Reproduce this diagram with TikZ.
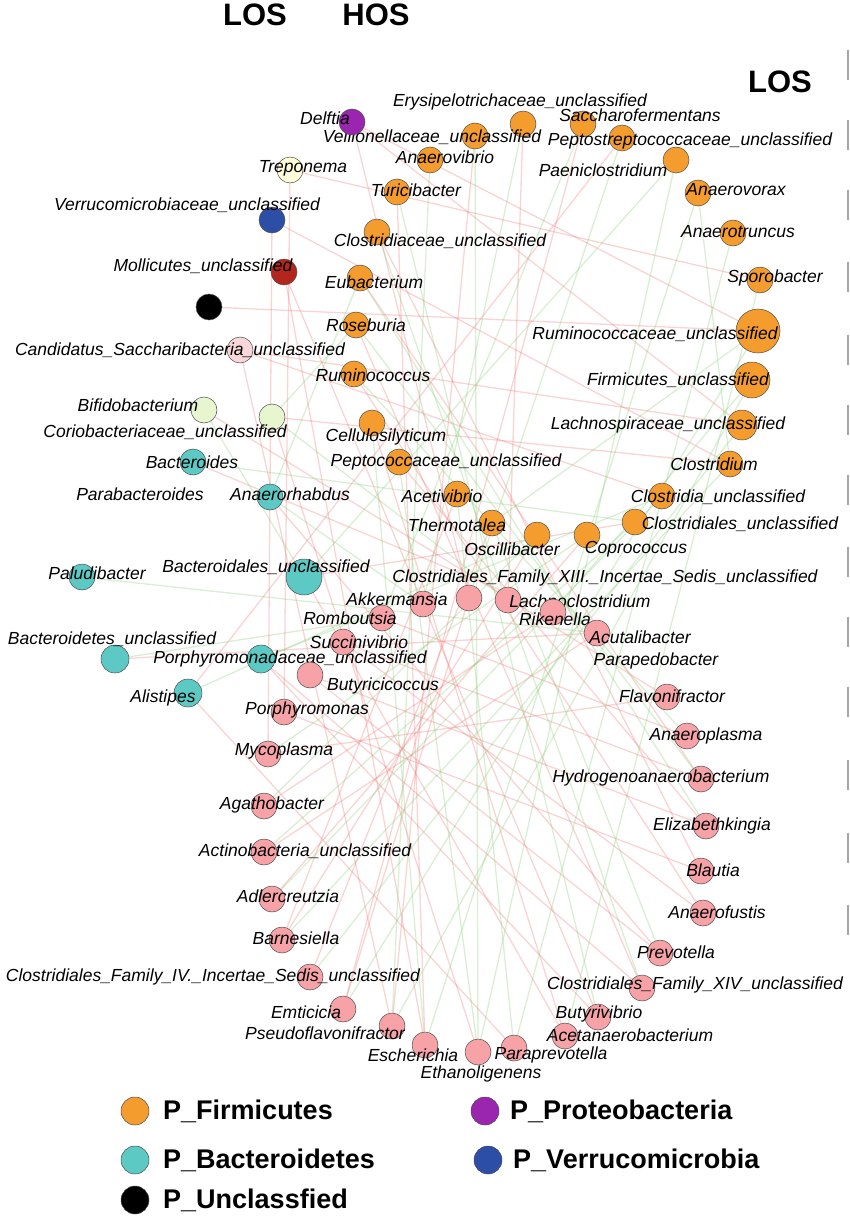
\documentclass[tikz,border=0pt]{standalone}
\usepackage{fontspec}
\setmainfont{Liberation Sans}
\usetikzlibrary{backgrounds}
\definecolor{cF}{HTML}{F59C2F}
\definecolor{cB}{HTML}{5CC9C5}
\definecolor{cP}{HTML}{F6A2A6}
\definecolor{cPu}{HTML}{9A25AE}
\definecolor{cV}{HTML}{2D4EA6}
\definecolor{cR}{HTML}{B3261E}
\definecolor{cY}{HTML}{FFFDD8}
\definecolor{cG}{HTML}{E8F6CF}
\definecolor{cK}{HTML}{F8D6DA}
\definecolor{eR}{HTML}{F08080}
\definecolor{eG}{HTML}{90D080}
\newcommand{\bug}[8]{\node[bugc,fill=#5,minimum size=#4pt] (#1) at (#2,#3) {};\node[lab] at (#6,#7) {#8};}
\begin{document}
\begin{tikzpicture}[x=1pt,y=-1pt,
 bugc/.style={circle,draw=black!70,line width=0.5pt,inner sep=0pt},
 lab/.style={font=\fontsize{17.5}{17.5}\selectfont\itshape,inner sep=0pt},
 head/.style={font=\fontsize{31}{31}\selectfont\bfseries,inner sep=0pt},
 leg/.style={font=\fontsize{27}{27}\selectfont\bfseries,anchor=west,inner sep=0pt},
 er/.style={draw=eR,opacity=0.35,line width=1.3pt},
 eg/.style={draw=eG,opacity=0.35,line width=1.3pt},
 tick/.style={draw=gray!70,line width=1.5pt}]
\useasboundingbox (0,0) rectangle (849,1217);
\node[head] (los1) at (255,15) {LOS};
\node[head] (hos) at (376,15) {HOS};
\node[head] (los2) at (780,82) {LOS};
\foreach \y in {65,135,205,277,350,420,490,562,632,702,775,848,920}{\draw[tick] (848,\y-15) -- (848,\y+15);}
% Firmicutes
\bug{ery}{523}{124}{26}{cF}{520}{102}{Erysipelotrichaceae\_unclassified}
\bug{sac}{583}{124}{26}{cF}{640}{115}{Saccharofermentans}
\bug{pep}{622}{138}{26}{cF}{690}{141}{Peptostreptococcaceae\_unclassified}
\bug{vei}{475}{136}{26}{cF}{432}{137}{Veillonellaceae\_unclassified}
\bug{ava}{430}{160}{26}{cF}{445}{157}{Anaerovibrio}
\bug{pae}{676}{160}{26}{cF}{603}{170}{Paeniclostridium}
\bug{tur}{397}{192}{26}{cF}{416}{190}{Turicibacter}
\bug{avx}{698}{193}{26}{cF}{736}{190}{Anaerovorax}
\bug{atr}{733}{233}{26}{cF}{738}{232}{Anaerotruncus}
\bug{cla}{377}{232}{26}{cF}{440}{241}{Clostridiaceae\_unclassified}
\bug{spo}{760}{280}{26}{cF}{775}{278}{Sporobacter}
\bug{eub}{360}{278}{26}{cF}{374}{282}{Eubacterium}
\bug{rum}{758}{331}{44}{cF}{655}{334}{Ruminococcaceae\_unclassified}
\bug{ros}{356}{325}{26}{cF}{366}{325}{Roseburia}
\bug{fir}{752}{380}{36}{cF}{678}{380}{Firmicutes\_unclassified}
\bug{rmc}{354}{374}{26}{cF}{373}{375}{Ruminococcus}
\bug{lac}{742}{425}{30}{cF}{668}{425}{Lachnospiraceae\_unclassified}
\bug{cel}{372}{423}{26}{cF}{386}{437}{Cellulosilyticum}
\bug{clo}{730}{464}{26}{cF}{714}{464}{Clostridium}
\bug{ppc}{399}{462}{26}{cF}{446}{462}{Peptococcaceae\_unclassified}
\bug{ace}{457}{494}{26}{cF}{442}{496}{Acetivibrio}
\bug{cli}{662}{496}{26}{cF}{718}{497}{Clostridia\_unclassified}
\bug{the}{492}{523}{26}{cF}{457}{525}{Thermotalea}
\bug{cls}{635}{522}{26}{cF}{740}{524}{Clostridiales\_unclassified}
\bug{osc}{537}{535}{26}{cF}{512}{549}{Oscillibacter}
\bug{cop}{587}{535}{26}{cF}{636}{549}{Coprococcus}
% others
\bug{del}{352}{122}{26}{cPu}{325}{118}{Delftia}
\bug{tre}{290}{170}{26}{cY}{303}{168}{Treponema}
\bug{ver}{272}{220}{26}{cV}{187}{205}{Verrucomicrobiaceae\_unclassified}
\bug{mol}{284}{272}{26}{cR}{203}{266}{Mollicutes\_unclassified}
\node[bugc,fill=black,minimum size=26pt] (unk) at (209,307) {};
\bug{can}{240}{350}{26}{cK}{180}{350}{Candidatus\_Saccharibacteria\_unclassified}
\bug{bif}{204}{410}{26}{cG}{138}{405}{Bifidobacterium}
\bug{cor}{272}{417}{26}{cG}{165}{432}{Coriobacteriaceae\_unclassified}
% Bacteroidetes
\bug{bac}{193}{462}{26}{cB}{192}{462}{Bacteroides}
\node[lab] (par) at (140,494) {Parabacteroides};
\bug{anr}{270}{497}{26}{cB}{290}{494}{Anaerorhabdus}
\bug{pal}{82}{577}{26}{cB}{97}{573}{Paludibacter}
\bug{bdu}{304}{577}{36}{cB}{266}{567}{Bacteroidales\_unclassified}
\bug{btu}{115}{659}{28}{cB}{112}{639}{Bacteroidetes\_unclassified}
\bug{poa}{261}{659}{28}{cB}{290}{659}{Porphyromonadaceae\_unclassified}
\bug{ali}{188}{693}{28}{cB}{163}{698}{Alistipes}
% pink
\bug{x13a}{469}{598}{26}{cP}{605}{578}{Clostridiales\_Family\_XIII.\_Incertae\_Sedis\_unclassified}
\bug{x13b}{508}{600}{26}{cP}{580}{601}{Lachnoclostridium}
\bug{akk}{423}{604}{26}{cP}{397}{599}{Akkermansia}
\bug{rik}{553}{612}{26}{cP}{555}{619}{Rikenella}
\bug{rom}{382}{618}{26}{cP}{350}{618}{Romboutsia}
\bug{acu}{597}{633}{26}{cP}{640}{637}{Acutalibacter}
\bug{suc}{343}{642}{26}{cP}{359}{642}{Succinivibrio}
\node[lab] (ppd) at (656,661) {Parapedobacter};
\bug{but}{310}{675}{26}{cP}{383}{686}{Butyricicoccus}
\bug{fla}{667}{697}{26}{cP}{672}{696}{Flavonifractor}
\bug{por}{284}{712}{26}{cP}{307}{710}{Porphyromonas}
\bug{anp}{687}{736}{26}{cP}{706}{736}{Anaeroplasma}
\bug{myc}{268}{754}{26}{cP}{284}{751}{Mycoplasma}
\bug{hyd}{701}{779}{26}{cP}{661}{778}{Hydrogenoanaerobacterium}
\bug{aga}{264}{806}{26}{cP}{272}{805}{Agathobacter}
\bug{eli}{706}{826}{26}{cP}{712}{826}{Elizabethkingia}
\bug{act}{264}{852}{26}{cP}{305}{851}{Actinobacteria\_unclassified}
\bug{bla}{701}{871}{26}{cP}{713}{870}{Blautia}
\bug{adl}{272}{899}{26}{cP}{288}{896}{Adlercreutzia}
\bug{anf}{703}{913}{26}{cP}{717}{912}{Anaerofustis}
\bug{bar}{282}{940}{26}{cP}{296}{938}{Barnesiella}
\bug{pre}{660}{953}{26}{cP}{676}{952}{Prevotella}
\bug{f4}{310}{977}{26}{cP}{213}{977}{Clostridiales\_Family\_IV.\_Incertae\_Sedis\_unclassified}
\bug{f14}{642}{988}{26}{cP}{695}{985}{Clostridiales\_Family\_XIV\_unclassified}
\bug{emt}{343}{1009}{26}{cP}{306}{1012}{Emticicia}
\bug{bvb}{598}{1017}{26}{cP}{599}{1014}{Butyrivibrio}
\bug{psf}{392}{1026}{26}{cP}{325}{1033}{Pseudoflavonifractor}
\bug{acb}{565}{1036}{26}{cP}{630}{1035}{Acetanaerobacterium}
\bug{esc}{425}{1045}{26}{cP}{413}{1055}{Escherichia}
\bug{ppv}{514}{1048}{26}{cP}{551}{1055}{Paraprevotella}
\bug{eth}{478}{1052}{26}{cP}{481}{1074}{Ethanoligenens}
% edges
\begin{pgfonlayer}{background}
\foreach \a/\b in {del/x13a,del/rum,can/cli,mol/akk,tre/por,ver/myc,ery/x13b,sac/emt,pep/ali,vei/psf,tur/esc,cla/bla,eub/hyd,ros/f14,rmc/anf,cel/acb,ppc/eli,ace/bar,can/lac,bif/fla,cor/clo,bac/rik,anr/pre,bdu/cls,btu/acu,poa/f14,ali/ppv,akk/bvb,rom/anp,suc/hyd,but/eli,por/bla,myc/fla,aga/rik,act/acu,adl/cop,bar/osc,f4/the,emt/x13a,psf/can,esc/mol,eth/cor,acb/bdu,bvb/poa,pre/but,anf/suc,unk/rum,tre/spo,ver/clo,del/lac}
 {\draw[er] (\a) -- (\b);}
\foreach \a/\b in {pae/eth,avx/esc,atr/ppv,spo/acb,rum/emt,fir/psf,lac/f4,clo/bar,cli/adl,cls/act,osc/aga,cop/myc,ery/akk,sac/rom,pep/x13a,pae/bdu,tur/bvb,cla/f14,eub/eli,ros/hyd,rmc/anp,cel/esc,ppc/eth,ace/ppv,the/pre,bif/bdu,cor/x13b,bac/cls,anr/akk,btu/rom,pal/acu,poa/cli,ali/osc,eub/anr,ros/cor,vei/eth,ava/psf,fir/rik,rum/the,avx/clo}
 {\draw[eg] (\a) -- (\b);}
\end{pgfonlayer}
% legend
\node[bugc,fill=cF,minimum size=28pt] (l1) at (135,1111) {};
\node[leg] at (163,1111) {P\_Firmicutes};
\node[bugc,fill=cB,minimum size=28pt] (l2) at (135,1160) {};
\node[leg] at (163,1160) {P\_Bacteroidetes};
\node[bugc,fill=black,minimum size=28pt] (l3) at (135,1200) {};
\node[leg] at (163,1200) {P\_Unclassfied};
\node[bugc,fill=cPu,minimum size=28pt] (l4) at (485,1111) {};
\node[leg] at (510,1111) {P\_Proteobacteria};
\node[bugc,fill=cV,minimum size=28pt] (l5) at (488,1160) {};
\node[leg] at (513,1160) {P\_Verrucomicrobia};
\end{tikzpicture}
\end{document}
